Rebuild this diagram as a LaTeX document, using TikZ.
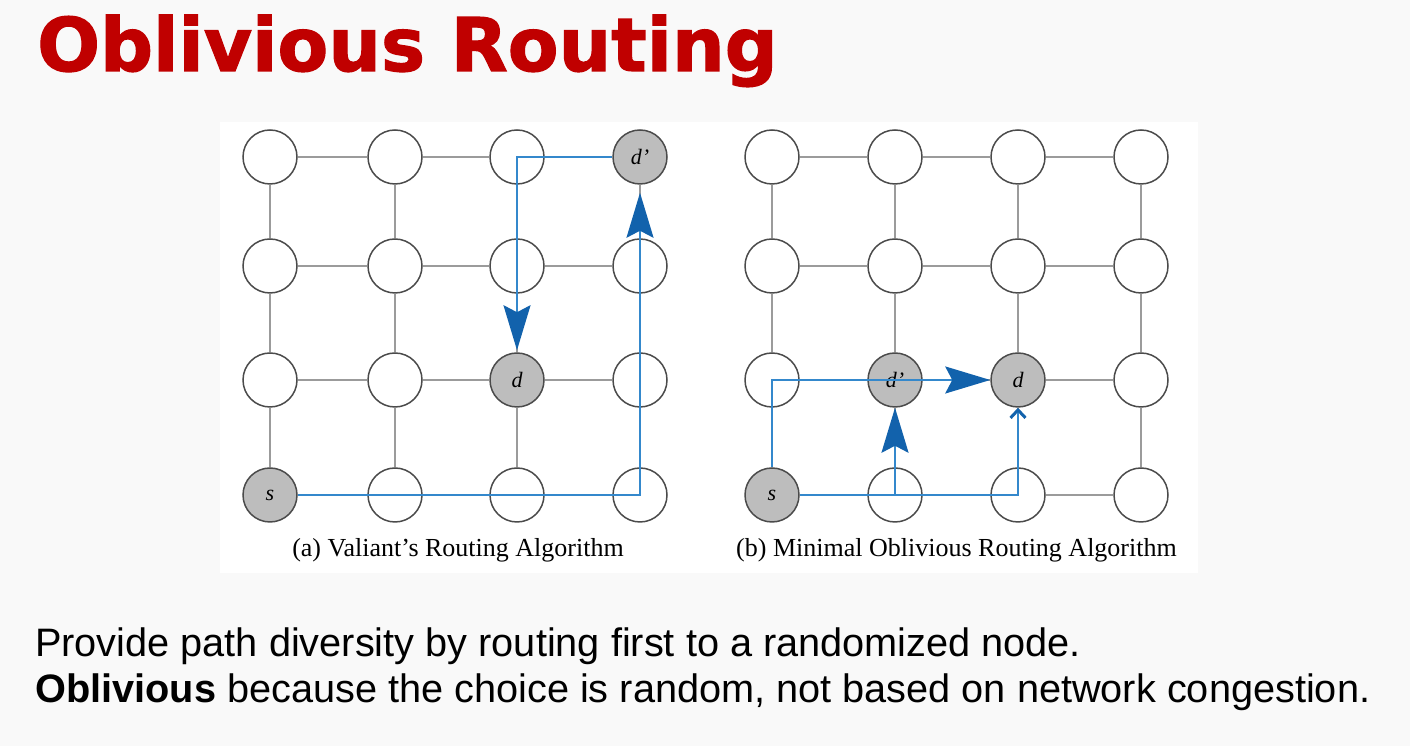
\documentclass[tikz,border=0pt]{standalone}
\usepackage{fontspec}
\setmainfont{Liberation Serif}
\newfontfamily\titlefont{DejaVu Sans}[BoldFeatures={FakeBold=1.6}]
\newfontfamily\bodyfont{Liberation Sans}
\usetikzlibrary{arrows.meta}
\definecolor{slidebg}{RGB}{249,249,249}
\definecolor{titlered}{RGB}{192,0,0}
\definecolor{pathblue}{RGB}{52,136,204}
\definecolor{tipblue}{RGB}{18,98,172}
\definecolor{gridgray}{RGB}{155,155,155}
\definecolor{ringgray}{RGB}{75,75,75}
\definecolor{nodefill}{RGB}{189,189,189}
\tikzset{
  nd/.style={circle, draw=ringgray, line width=1.5pt, fill=white, minimum size=54pt, inner sep=0pt,
    font=\fontsize{22pt}{22pt}\selectfont\itshape},
  hot/.style={fill=nodefill},
  gridline/.style={draw=gridgray, line width=1.3pt},
  bluepath/.style={draw=pathblue, line width=2pt},
  bigarrow/.style={-{Stealth[length=45pt,width=27pt,inset=7pt,color=tipblue]}},
  smallarrow/.style={-{Straight Barb[length=8pt,width=15pt,line width=3pt,color=tipblue]}},
  caption/.style={anchor=base, font=\fontsize{26pt}{26pt}\selectfont, inner sep=0pt},
  bodytext/.style={anchor=base west, font=\bodyfont\fontsize{39.7pt}{40pt}\selectfont, inner sep=0pt},
  a14/.style={hot}, a33/.style={hot}, a41/.style={hot},
  b32/.style={hot}, b33/.style={hot}, b41/.style={hot},
}
\expandafter\def\csname laba14\endcsname{d’}
\expandafter\def\csname laba33\endcsname{d}
\expandafter\def\csname laba41\endcsname{s}
\expandafter\def\csname labb32\endcsname{d’}
\expandafter\def\csname labb33\endcsname{d}
\expandafter\def\csname labb41\endcsname{s}
\begin{document}
\begin{tikzpicture}[x=1pt,y=1pt]
\useasboundingbox (0,0) rectangle (1410,746);
\fill[slidebg] (0,0) rectangle (1410,746);
\fill[white] (220,173) rectangle (1198,624);

\node[anchor=base west, inner sep=0pt, text=titlered, font=\titlefont\bfseries\fontsize{74pt}{74pt}\selectfont] (title) at (37,675) {Oblivious Routing};

% grids
\foreach \g/\xa/\xb/\xc/\xd in {a/270/395/517/640, b/772/895/1018/1141}{
  \foreach \r/\y in {1/589,2/480,3/366,4/251}{
    \foreach \c/\x in {1/\xa,2/\xb,3/\xc,4/\xd}{
      \node[nd, \g\r\c/.try] (\g\r\c) at (\x,\y) {\csname lab\g\r\c\endcsname};
    }
  }
  \foreach \r in {1,2,3,4}{
    \foreach \c in {1,2,3}{
      \pgfmathtruncatemacro{\n}{\c+1}
      \draw[gridline] (\g\r\c) -- (\g\r\n);
      \draw[gridline] (\g\c\r) -- (\g\n\r);
    }
  }
}

% (a) Valiant's routing
\draw[bluepath, bigarrow] (a41.east) -| ([yshift=-8pt]a14.south);
\draw[bluepath, bigarrow] (a14.west) -| ([yshift=2pt]a33.north);
% (b) minimal oblivious routing
\draw[bluepath, bigarrow] (b41.north) |- (b33.west);
\draw[bluepath, smallarrow] (b41.east) -| (b33.south);
\draw[bluepath, bigarrow] (b42.center) -- (b32.south);

\node[caption] (capa) at (458,189) {(a) Valiant’s Routing Algorithm};
\node[caption] (capb) at (956.5,189) {(b) Minimal Oblivious Routing Algorithm};

\node[bodytext] (line1) at (35,89) {Provide path diversity by routing first to a randomized node.};
\node[bodytext] (line2) at (35,43.3) {\bfseries Oblivious\mdseries{} because the choice is random, not based on network congestion.};
\end{tikzpicture}
\end{document}
